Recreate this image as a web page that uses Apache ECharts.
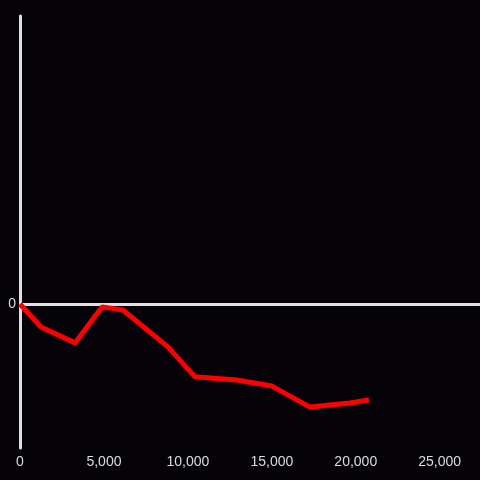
<!DOCTYPE html>
<html>
<head>
<meta charset="utf-8">
<script src="https://cdn.jsdelivr.net/npm/echarts@6/dist/echarts.min.js"></script>
<style>
  html, body { margin: 0; padding: 0; background: #050307; }
  #main { width: 480px; height: 480px; }
</style>
</head>
<body>
<div id="main"></div>
<script>
var xValues = [0, 1250, 3280, 4880, 6130, 8810, 10420, 12920, 15010, 17270, 19650, 20790];
var yValues = [0, -8.0, -13.5, -1.0, -2.1, -14.9, -25.3, -26.4, -28.5, -35.8, -34.4, -33.3];

var points = xValues.map(function (x, i) { return [x, yValues[i]]; });

var option = {
    backgroundColor: '#050307',
    animation: false,
    grid: { left: 20, right: 0, top: 16, bottom: 32 },
    xAxis: {
        type: 'value',
        min: 0,
        max: 27400,
        interval: 5000,
        axisLine: { show: false, onZero: false },
        axisTick: { show: false },
        splitLine: { show: false },
        axisLabel: {
            color: '#dddddd',
            fontSize: 14,
            margin: 7,
            fontFamily: 'Liberation Sans',
            showMaxLabel: false,
            formatter: function (v) { return v.toLocaleString('en-US'); }
        }
    },
    yAxis: {
        type: 'value',
        min: -50,
        max: 100,
        interval: 50,
        axisLine: { show: true, onZero: false, lineStyle: { color: '#e0e0e0', width: 3 } },
        axisTick: { show: false },
        splitLine: { show: false },
        axisLabel: {
            color: '#dddddd',
            fontSize: 14,
            margin: 4,
            fontFamily: 'Liberation Sans',
            formatter: function (v) { return v === 0 ? '0' : ''; }
        }
    },
    series: [{
        type: 'line',
        data: points,
        showSymbol: false,
        lineStyle: { color: '#ff0000', width: 5 },
        markLine: {
            silent: true,
            symbol: 'none',
            label: { show: false },
            lineStyle: { color: '#e0e0e0', width: 3, type: 'solid' },
            data: [{ yAxis: 0 }],
            z: 1
        },
        z: 3
    }]
};

var chart = echarts.init(document.getElementById('main'));
chart.setOption(option);
</script>
</body>
</html>
